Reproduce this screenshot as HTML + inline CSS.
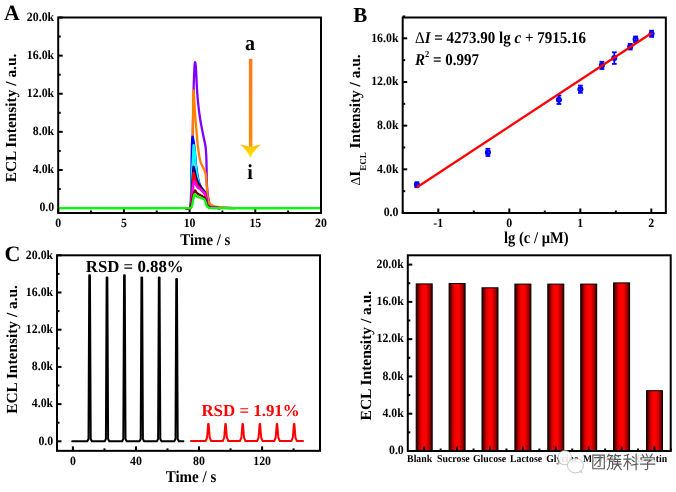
<!DOCTYPE html>
<html><head><meta charset="utf-8"><style>
html,body{margin:0;padding:0;background:#fff;}
svg{display:block;font-family:"Liberation Serif", serif;-webkit-font-smoothing:antialiased;text-rendering:geometricPrecision;will-change:transform;}
</style></head><body>
<svg width="676" height="492" viewBox="0 0 676 492">
<rect width="676" height="492" fill="#fff"/>
<text transform="translate(4.00,20.40) scale(1.0,1.0)" font-size="21.8" text-anchor="start" fill="#000" font-weight="bold"  style="">A</text>
<line x1="58.20" y1="208.10" x2="62.70" y2="208.10" stroke="#000" stroke-width="2" stroke-linecap="butt"/>
<text transform="translate(54.20,211.40) scale(1.0,1.07)" font-size="11.85" text-anchor="end" fill="#000" font-weight="bold"  style="">0.0</text>
<line x1="58.20" y1="189.04" x2="60.70" y2="189.04" stroke="#000" stroke-width="2" stroke-linecap="butt"/>
<line x1="58.20" y1="169.98" x2="62.70" y2="169.98" stroke="#000" stroke-width="2" stroke-linecap="butt"/>
<text transform="translate(54.20,173.28) scale(1.0,1.07)" font-size="11.85" text-anchor="end" fill="#000" font-weight="bold"  style="">4.0k</text>
<line x1="58.20" y1="150.92" x2="60.70" y2="150.92" stroke="#000" stroke-width="2" stroke-linecap="butt"/>
<line x1="58.20" y1="131.86" x2="62.70" y2="131.86" stroke="#000" stroke-width="2" stroke-linecap="butt"/>
<text transform="translate(54.20,135.16) scale(1.0,1.07)" font-size="11.85" text-anchor="end" fill="#000" font-weight="bold"  style="">8.0k</text>
<line x1="58.20" y1="112.80" x2="60.70" y2="112.80" stroke="#000" stroke-width="2" stroke-linecap="butt"/>
<line x1="58.20" y1="93.74" x2="62.70" y2="93.74" stroke="#000" stroke-width="2" stroke-linecap="butt"/>
<text transform="translate(54.20,97.04) scale(1.0,1.07)" font-size="11.85" text-anchor="end" fill="#000" font-weight="bold"  style="">12.0k</text>
<line x1="58.20" y1="74.68" x2="60.70" y2="74.68" stroke="#000" stroke-width="2" stroke-linecap="butt"/>
<line x1="58.20" y1="55.62" x2="62.70" y2="55.62" stroke="#000" stroke-width="2" stroke-linecap="butt"/>
<text transform="translate(54.20,58.92) scale(1.0,1.07)" font-size="11.85" text-anchor="end" fill="#000" font-weight="bold"  style="">16.0k</text>
<line x1="58.20" y1="36.56" x2="60.70" y2="36.56" stroke="#000" stroke-width="2" stroke-linecap="butt"/>
<line x1="58.20" y1="17.50" x2="62.70" y2="17.50" stroke="#000" stroke-width="2" stroke-linecap="butt"/>
<text transform="translate(54.20,20.80) scale(1.0,1.07)" font-size="11.85" text-anchor="end" fill="#000" font-weight="bold"  style="">20.0k</text>
<line x1="58.20" y1="213.00" x2="58.20" y2="208.50" stroke="#000" stroke-width="2" stroke-linecap="butt"/>
<text transform="translate(58.20,226.50) scale(1.0,1.07)" font-size="11.85" text-anchor="middle" fill="#000" font-weight="bold"  style="">0</text>
<line x1="91.05" y1="213.00" x2="91.05" y2="210.50" stroke="#000" stroke-width="2" stroke-linecap="butt"/>
<line x1="123.90" y1="213.00" x2="123.90" y2="208.50" stroke="#000" stroke-width="2" stroke-linecap="butt"/>
<text transform="translate(123.90,226.50) scale(1.0,1.07)" font-size="11.85" text-anchor="middle" fill="#000" font-weight="bold"  style="">5</text>
<line x1="156.75" y1="213.00" x2="156.75" y2="210.50" stroke="#000" stroke-width="2" stroke-linecap="butt"/>
<line x1="189.60" y1="213.00" x2="189.60" y2="208.50" stroke="#000" stroke-width="2" stroke-linecap="butt"/>
<text transform="translate(189.60,226.50) scale(1.0,1.07)" font-size="11.85" text-anchor="middle" fill="#000" font-weight="bold"  style="">10</text>
<line x1="222.45" y1="213.00" x2="222.45" y2="210.50" stroke="#000" stroke-width="2" stroke-linecap="butt"/>
<line x1="255.30" y1="213.00" x2="255.30" y2="208.50" stroke="#000" stroke-width="2" stroke-linecap="butt"/>
<text transform="translate(255.30,226.50) scale(1.0,1.07)" font-size="11.85" text-anchor="middle" fill="#000" font-weight="bold"  style="">15</text>
<line x1="288.15" y1="213.00" x2="288.15" y2="210.50" stroke="#000" stroke-width="2" stroke-linecap="butt"/>
<line x1="321.00" y1="213.00" x2="321.00" y2="208.50" stroke="#000" stroke-width="2" stroke-linecap="butt"/>
<text transform="translate(321.00,226.50) scale(1.0,1.07)" font-size="11.85" text-anchor="middle" fill="#000" font-weight="bold"  style="">20</text>
<text transform="translate(205.30,245.40) scale(1.0,1.1)" font-size="14.8" text-anchor="middle" fill="#000" font-weight="bold"  style="">Time / s</text>
<text transform="translate(16,118) rotate(-90)" x="0" y="0" font-size="15.4" text-anchor="middle" font-weight="bold">ECL Intensity / a.u.</text>
<path d="M186.00,208.15 C186.00,208.15 189.27,208.83 190.10,208.15 C190.97,207.44 191.03,205.42 191.10,204.00 C191.69,192.70 191.82,181.33 192.10,170.00 C192.42,156.67 192.65,143.33 192.90,130.00 C193.15,116.87 193.29,103.73 193.60,90.60 C193.76,83.73 193.96,76.86 194.30,70.00 C194.43,67.36 194.67,62.99 195.00,62.10 C195.17,61.65 195.70,64.68 195.80,66.00 C196.30,72.31 196.43,78.67 196.80,85.00 C197.09,90.00 197.32,95.01 197.80,100.00 C198.38,106.01 199.12,112.02 200.00,118.00 C200.59,122.02 201.44,126.01 202.20,130.00 C202.77,133.01 203.40,136.00 204.00,139.00 C204.53,141.67 205.26,144.31 205.60,147.00 C206.02,150.31 206.14,153.66 206.30,157.00 C206.47,160.66 206.53,164.33 206.60,168.00 C206.69,172.67 206.63,177.34 206.80,182.00 C206.93,185.34 207.17,188.68 207.50,192.00 C207.73,194.34 208.09,196.68 208.50,199.00 C208.76,200.48 208.91,202.07 209.50,203.40 C209.87,204.24 210.66,204.94 211.40,205.50 C212.16,206.07 213.07,206.58 214.00,206.80 C215.94,207.25 217.99,207.37 220.00,207.50 C224.99,207.82 235.00,208.15 235.00,208.15" fill="none" stroke="#8000FF" stroke-width="2.3" stroke-linejoin="round" stroke-linecap="round"/>
<path d="M186.00,208.15 C186.00,208.15 189.53,209.05 190.10,208.15 C191.23,206.34 190.99,202.73 191.10,200.00 C191.65,186.68 191.80,173.33 192.10,160.00 C192.44,145.00 192.76,130.00 193.00,115.00 C193.13,106.87 192.93,95.78 193.20,90.60 C193.26,89.44 193.85,94.19 194.00,96.00 C194.38,100.65 194.47,105.34 194.80,110.00 C195.27,116.67 195.82,123.34 196.40,130.00 C196.98,136.67 197.42,143.37 198.30,150.00 C198.86,154.20 199.57,158.44 200.70,162.50 C201.20,164.31 202.38,165.89 203.20,167.60 C203.74,168.73 204.39,169.82 204.80,171.00 C205.25,172.29 205.60,173.65 205.80,175.00 C206.10,176.98 206.13,179.00 206.30,181.00 C206.70,185.67 206.97,190.35 207.50,195.00 C207.77,197.35 207.93,199.84 208.70,202.00 C209.09,203.10 210.06,204.09 211.00,204.80 C211.96,205.53 213.20,206.03 214.40,206.30 C216.87,206.86 219.46,207.07 222.00,207.30 C226.32,207.69 235.00,208.15 235.00,208.15" fill="none" stroke="#FF8000" stroke-width="2.3" stroke-linejoin="round" stroke-linecap="round"/>
<path d="M186.00,208.15 C186.00,208.15 189.56,209.06 190.10,208.15 C191.19,206.34 190.81,202.73 190.90,200.00 C191.31,188.34 191.38,176.67 191.60,165.00 C191.71,159.00 191.73,153.00 191.90,147.00 C192.00,143.53 192.08,139.22 192.40,136.60 C192.45,136.22 192.91,137.50 193.00,138.00 C193.61,141.30 194.13,144.65 194.50,148.00 C195.13,153.65 195.34,159.35 196.00,165.00 C196.51,169.35 197.14,173.71 198.00,178.00 C198.54,180.71 199.24,183.43 200.20,186.00 C200.74,187.43 201.62,188.75 202.50,190.00 C203.15,190.92 204.31,191.52 204.80,192.50 C205.47,193.85 205.70,195.48 206.00,197.00 C206.43,199.15 206.35,201.45 207.00,203.50 C207.35,204.62 208.06,205.89 209.00,206.50 C210.06,207.19 211.65,207.20 213.00,207.40 C215.32,207.75 220.00,208.15 220.00,208.15" fill="none" stroke="#0000FF" stroke-width="2.3" stroke-linejoin="round" stroke-linecap="round"/>
<path d="M186.00,208.15 C186.00,208.15 189.54,209.06 190.10,208.15 C191.21,206.34 190.85,202.73 191.00,200.00 C191.45,191.68 191.51,183.33 191.90,175.00 C192.21,168.33 192.72,161.67 193.10,155.00 C193.29,151.73 193.29,146.31 193.60,145.20 C193.76,144.65 194.32,148.38 194.50,150.00 C194.95,153.98 195.10,158.01 195.50,162.00 C195.93,166.34 196.21,170.72 197.00,175.00 C197.78,179.22 198.82,183.47 200.20,187.50 C200.65,188.81 201.61,189.94 202.50,191.00 C203.15,191.77 204.34,192.14 204.80,193.00 C205.51,194.31 205.68,195.98 206.00,197.50 C206.42,199.48 206.37,201.62 207.00,203.50 C207.37,204.62 208.06,205.89 209.00,206.50 C210.06,207.19 211.65,207.20 213.00,207.40 C215.32,207.75 220.00,208.15 220.00,208.15" fill="none" stroke="#00FFFF" stroke-width="2.3" stroke-linejoin="round" stroke-linecap="round"/>
<path d="M186.00,208.15 C186.00,208.15 189.53,209.05 190.10,208.15 C191.23,206.34 190.86,202.73 191.10,200.00 C191.53,195.01 191.74,190.00 192.10,185.00 C192.41,180.66 192.77,176.33 193.10,172.00 C193.24,170.20 193.22,167.00 193.50,166.60 C193.68,166.34 194.22,168.85 194.50,170.00 C195.06,172.32 195.36,174.71 196.00,177.00 C196.52,178.87 197.16,180.76 198.00,182.50 C198.56,183.66 199.46,184.64 200.20,185.70 C200.96,186.80 201.71,187.92 202.50,189.00 C203.24,190.02 204.31,190.87 204.80,192.00 C205.47,193.54 205.69,195.32 206.00,197.00 C206.42,199.32 206.33,201.80 207.00,204.00 C207.33,205.07 208.08,206.26 209.00,206.80 C210.08,207.43 211.66,207.34 213.00,207.50 C215.32,207.79 220.00,208.15 220.00,208.15" fill="none" stroke="#000080" stroke-width="2.3" stroke-linejoin="round" stroke-linecap="round"/>
<path d="M186.00,208.15 C186.00,208.15 189.43,208.96 190.10,208.15 C191.13,206.91 190.87,204.06 191.10,202.00 C191.54,198.01 191.77,194.00 192.10,190.00 C192.43,186.00 192.77,182.00 193.10,178.00 C193.24,176.33 193.21,173.41 193.50,173.00 C193.68,172.74 194.22,174.99 194.50,176.00 C195.05,177.99 195.32,180.07 196.00,182.00 C196.49,183.40 197.20,184.76 198.00,186.00 C198.60,186.92 199.50,187.64 200.20,188.50 C201.00,189.47 201.69,190.53 202.50,191.50 C203.23,192.37 204.28,193.03 204.80,194.00 C205.44,195.19 205.72,196.64 206.00,198.00 C206.45,200.14 206.33,202.48 207.00,204.50 C207.33,205.48 208.11,206.56 209.00,207.00 C210.11,207.56 211.66,207.36 213.00,207.50 C215.33,207.74 220.00,208.15 220.00,208.15" fill="none" stroke="#FF0000" stroke-width="2.3" stroke-linejoin="round" stroke-linecap="round"/>
<path d="M186.00,208.15 C186.00,208.15 189.34,208.90 190.10,208.15 C191.07,207.18 190.94,204.73 191.20,203.00 C191.70,199.68 191.98,196.33 192.40,193.00 C192.78,190.00 193.15,186.99 193.60,184.00 C193.75,182.99 193.89,181.00 194.20,181.00 C194.53,181.00 195.01,183.03 195.50,184.00 C196.11,185.20 196.63,186.53 197.50,187.50 C198.19,188.27 199.35,188.57 200.20,189.20 C201.01,189.80 201.76,190.51 202.50,191.20 C203.29,191.94 204.32,192.57 204.80,193.50 C205.49,194.83 205.69,196.48 206.00,198.00 C206.36,199.78 206.29,201.68 206.80,203.40 C207.13,204.51 207.60,205.91 208.50,206.50 C209.67,207.27 211.48,207.28 213.00,207.50 C215.32,207.83 220.00,208.15 220.00,208.15" fill="none" stroke="#FF00FF" stroke-width="2.3" stroke-linejoin="round" stroke-linecap="round"/>
<path d="M186.00,208.15 C186.00,208.15 189.23,208.82 190.10,208.15 C191.03,207.44 191.06,205.41 191.40,204.00 C191.96,201.69 192.26,199.32 192.80,197.00 C193.19,195.32 193.68,193.65 194.20,192.00 C194.38,191.42 194.59,190.23 194.90,190.30 C195.36,190.40 195.89,191.84 196.50,192.50 C197.09,193.14 197.77,193.73 198.50,194.20 C199.01,194.53 199.66,194.62 200.20,194.90 C200.99,195.32 201.73,195.83 202.50,196.30 C203.27,196.77 204.29,197.02 204.80,197.70 C205.46,198.59 205.66,199.88 206.00,201.00 C206.40,202.31 206.42,203.80 207.00,205.00 C207.42,205.87 208.12,206.85 209.00,207.20 C210.79,207.90 215.00,208.15 215.00,208.15" fill="none" stroke="#800000" stroke-width="2.3" stroke-linejoin="round" stroke-linecap="round"/>
<path d="M59.60,208.15 C59.60,208.15 146.68,208.43 190.10,208.15 C190.64,208.15 191.28,207.76 191.50,207.30 C192.11,206.05 192.29,204.45 192.60,203.00 C193.06,200.88 193.34,198.72 193.80,196.60 C193.98,195.79 194.07,194.30 194.50,194.20 C194.97,194.10 195.79,195.46 196.50,196.00 C197.12,196.46 197.80,196.88 198.50,197.20 C199.03,197.44 199.64,197.50 200.20,197.70 C201.51,198.17 203.09,198.38 204.10,199.20 C204.86,199.81 205.12,201.03 205.50,202.00 C205.95,203.16 206.07,204.49 206.60,205.60 C206.91,206.25 207.43,206.87 208.00,207.30 C208.56,207.72 209.28,208.14 210.00,208.15 C246.41,208.43 319.40,208.15 319.40,208.15" fill="none" stroke="#00FF00" stroke-width="2.35" stroke-linejoin="round" stroke-linecap="round"/>
<defs><linearGradient id="ag" x1="0" y1="0" x2="0" y2="1"><stop offset="0" stop-color="#FF7A1E"/><stop offset="0.9" stop-color="#FF8408"/><stop offset="1" stop-color="#FFA000"/></linearGradient><linearGradient id="ahg" x1="0" y1="0" x2="0" y2="1"><stop offset="0" stop-color="#FFB800"/><stop offset="0.5" stop-color="#FFD400"/><stop offset="1" stop-color="#FFE600"/></linearGradient><linearGradient id="bar" x1="0" y1="0" x2="1" y2="0"><stop offset="0" stop-color="#200000"/><stop offset="0.25" stop-color="#cc0000"/><stop offset="0.42" stop-color="#ff0000"/><stop offset="0.6" stop-color="#ff0000"/><stop offset="0.85" stop-color="#a00000"/><stop offset="1" stop-color="#200000"/></linearGradient></defs>
<rect x="248.9" y="58.8" width="3.5" height="88.5" fill="url(#ag)"/>
<path d="M240.2,144.6 Q245.8,145.2 250.5,147.4 Q255.2,145.2 260.9,144.4 Q254.6,149.2 250.4,157.8 Q246.2,149.2 240.2,144.6 Z" fill="url(#ahg)"/>
<text transform="translate(250.10,50.00) scale(1.0,1.07)" font-size="20" text-anchor="middle" fill="#000" font-weight="bold"  style="">a</text>
<text transform="translate(250.10,179.00) scale(1.0,1.07)" font-size="20" text-anchor="middle" fill="#000" font-weight="bold"  style="">i</text>
<rect x="58.20" y="17.50" width="262.80" height="195.50" fill="none" stroke="#000" stroke-width="2"/>
<text transform="translate(353.30,21.50) scale(1.0,1.02)" font-size="21" text-anchor="start" fill="#000" font-weight="bold"  style="">B</text>
<line x1="402.70" y1="213.00" x2="407.20" y2="213.00" stroke="#000" stroke-width="2" stroke-linecap="butt"/>
<text transform="translate(398.50,216.30) scale(1.0,1.07)" font-size="11.85" text-anchor="end" fill="#000" font-weight="bold"  style="">0.0</text>
<line x1="402.70" y1="191.16" x2="405.20" y2="191.16" stroke="#000" stroke-width="2" stroke-linecap="butt"/>
<line x1="402.70" y1="169.32" x2="407.20" y2="169.32" stroke="#000" stroke-width="2" stroke-linecap="butt"/>
<text transform="translate(398.50,172.62) scale(1.0,1.07)" font-size="11.85" text-anchor="end" fill="#000" font-weight="bold"  style="">4.0k</text>
<line x1="402.70" y1="147.49" x2="405.20" y2="147.49" stroke="#000" stroke-width="2" stroke-linecap="butt"/>
<line x1="402.70" y1="125.65" x2="407.20" y2="125.65" stroke="#000" stroke-width="2" stroke-linecap="butt"/>
<text transform="translate(398.50,128.95) scale(1.0,1.07)" font-size="11.85" text-anchor="end" fill="#000" font-weight="bold"  style="">8.0k</text>
<line x1="402.70" y1="103.81" x2="405.20" y2="103.81" stroke="#000" stroke-width="2" stroke-linecap="butt"/>
<line x1="402.70" y1="81.98" x2="407.20" y2="81.98" stroke="#000" stroke-width="2" stroke-linecap="butt"/>
<text transform="translate(398.50,85.28) scale(1.0,1.07)" font-size="11.85" text-anchor="end" fill="#000" font-weight="bold"  style="">12.0k</text>
<line x1="402.70" y1="60.14" x2="405.20" y2="60.14" stroke="#000" stroke-width="2" stroke-linecap="butt"/>
<line x1="402.70" y1="38.30" x2="407.20" y2="38.30" stroke="#000" stroke-width="2" stroke-linecap="butt"/>
<text transform="translate(398.50,41.60) scale(1.0,1.07)" font-size="11.85" text-anchor="end" fill="#000" font-weight="bold"  style="">16.0k</text>
<line x1="402.70" y1="16.46" x2="405.20" y2="16.46" stroke="#000" stroke-width="2" stroke-linecap="butt"/>
<line x1="402.80" y1="213.00" x2="402.80" y2="210.50" stroke="#000" stroke-width="2" stroke-linecap="butt"/>
<line x1="438.30" y1="213.00" x2="438.30" y2="208.50" stroke="#000" stroke-width="2" stroke-linecap="butt"/>
<text transform="translate(438.30,226.50) scale(1.0,1.07)" font-size="11.85" text-anchor="middle" fill="#000" font-weight="bold"  style="">-1</text>
<line x1="473.80" y1="213.00" x2="473.80" y2="210.50" stroke="#000" stroke-width="2" stroke-linecap="butt"/>
<line x1="509.30" y1="213.00" x2="509.30" y2="208.50" stroke="#000" stroke-width="2" stroke-linecap="butt"/>
<text transform="translate(509.30,226.50) scale(1.0,1.07)" font-size="11.85" text-anchor="middle" fill="#000" font-weight="bold"  style="">0</text>
<line x1="544.80" y1="213.00" x2="544.80" y2="210.50" stroke="#000" stroke-width="2" stroke-linecap="butt"/>
<line x1="580.30" y1="213.00" x2="580.30" y2="208.50" stroke="#000" stroke-width="2" stroke-linecap="butt"/>
<text transform="translate(580.30,226.50) scale(1.0,1.07)" font-size="11.85" text-anchor="middle" fill="#000" font-weight="bold"  style="">1</text>
<line x1="615.80" y1="213.00" x2="615.80" y2="210.50" stroke="#000" stroke-width="2" stroke-linecap="butt"/>
<line x1="651.30" y1="213.00" x2="651.30" y2="208.50" stroke="#000" stroke-width="2" stroke-linecap="butt"/>
<text transform="translate(651.30,226.50) scale(1.0,1.07)" font-size="11.85" text-anchor="middle" fill="#000" font-weight="bold"  style="">2</text>
<text transform="translate(536.30,243.00) scale(1.0,1.13)" font-size="14.6" text-anchor="middle" fill="#000" font-weight="bold"  style="">lg (c / μM)</text>
<text transform="translate(360,119.9) rotate(-90)" x="0" y="0" font-size="15.4" text-anchor="middle" font-weight="bold"><tspan font-weight="normal" font-size="13.5">Δ</tspan>I<tspan font-size="9" dy="5.8">ECL</tspan><tspan dy="-5.8"> Intensity / a.u.</tspan></text>
<g stroke="#0000FF" fill="none" stroke-width="1.8"><line x1="416.90" y1="182.20" x2="416.90" y2="187.20"/><line x1="414.50" y1="182.20" x2="419.30" y2="182.20"/><line x1="414.50" y1="187.20" x2="419.30" y2="187.20"/><circle cx="416.90" cy="184.70" r="2.0" stroke-width="2.1"/></g>
<g stroke="#0000FF" fill="none" stroke-width="1.8"><line x1="487.90" y1="148.80" x2="487.90" y2="156.00"/><line x1="485.50" y1="148.80" x2="490.30" y2="148.80"/><line x1="485.50" y1="156.00" x2="490.30" y2="156.00"/><circle cx="487.90" cy="152.40" r="2.0" stroke-width="2.1"/></g>
<g stroke="#0000FF" fill="none" stroke-width="1.8"><line x1="558.90" y1="95.60" x2="558.90" y2="104.00"/><line x1="556.50" y1="95.60" x2="561.30" y2="95.60"/><line x1="556.50" y1="104.00" x2="561.30" y2="104.00"/><circle cx="558.90" cy="99.80" r="2.0" stroke-width="2.1"/></g>
<g stroke="#0000FF" fill="none" stroke-width="1.8"><line x1="580.40" y1="85.60" x2="580.40" y2="92.80"/><line x1="578.00" y1="85.60" x2="582.80" y2="85.60"/><line x1="578.00" y1="92.80" x2="582.80" y2="92.80"/><circle cx="580.40" cy="89.20" r="2.0" stroke-width="2.1"/></g>
<g stroke="#0000FF" fill="none" stroke-width="1.8"><line x1="601.90" y1="61.80" x2="601.90" y2="69.00"/><line x1="599.50" y1="61.80" x2="604.30" y2="61.80"/><line x1="599.50" y1="69.00" x2="604.30" y2="69.00"/><circle cx="601.90" cy="65.40" r="2.0" stroke-width="2.1"/></g>
<g stroke="#0000FF" fill="none" stroke-width="1.8"><line x1="614.30" y1="52.30" x2="614.30" y2="63.90"/><line x1="611.90" y1="52.30" x2="616.70" y2="52.30"/><line x1="611.90" y1="63.90" x2="616.70" y2="63.90"/><circle cx="614.30" cy="58.10" r="2.0" stroke-width="2.1"/></g>
<g stroke="#0000FF" fill="none" stroke-width="1.8"><line x1="630.20" y1="43.90" x2="630.20" y2="49.50"/><line x1="627.80" y1="43.90" x2="632.60" y2="43.90"/><line x1="627.80" y1="49.50" x2="632.60" y2="49.50"/><circle cx="630.20" cy="46.70" r="2.0" stroke-width="2.1"/></g>
<g stroke="#0000FF" fill="none" stroke-width="1.8"><line x1="635.60" y1="36.50" x2="635.60" y2="42.10"/><line x1="633.20" y1="36.50" x2="638.00" y2="36.50"/><line x1="633.20" y1="42.10" x2="638.00" y2="42.10"/><circle cx="635.60" cy="39.30" r="2.0" stroke-width="2.1"/></g>
<g stroke="#0000FF" fill="none" stroke-width="1.8"><line x1="651.60" y1="30.70" x2="651.60" y2="36.90"/><line x1="649.20" y1="30.70" x2="654.00" y2="30.70"/><line x1="649.20" y1="36.90" x2="654.00" y2="36.90"/><circle cx="651.60" cy="33.80" r="2.0" stroke-width="2.1"/></g>
<line x1="417.00" y1="187.24" x2="651.30" y2="33.25" stroke="#FF0000" stroke-width="2.2" stroke-linecap="butt"/>
<text transform="translate(415,42.9) scale(1,1.1)" font-size="15" font-weight="bold"><tspan font-weight="normal">Δ</tspan><tspan font-style="italic">I</tspan> = 4273.90 lg <tspan font-style="italic">c</tspan> + 7915.16</text>
<text transform="translate(415,64.8) scale(1,1.1)" font-size="15" font-weight="bold"><tspan font-style="italic">R</tspan><tspan font-size="8.5" dy="-7.3">2</tspan><tspan dy="7.3"> = 0.997</tspan></text>
<rect x="402.70" y="17.50" width="263.15" height="195.50" fill="none" stroke="#000" stroke-width="2"/>
<text transform="translate(4.50,261.10) scale(1.0,1.0)" font-size="22" text-anchor="start" fill="#000" font-weight="bold"  style="">C</text>
<line x1="57.00" y1="441.30" x2="61.50" y2="441.30" stroke="#000" stroke-width="2" stroke-linecap="butt"/>
<text transform="translate(53.20,444.60) scale(1.0,1.07)" font-size="11.85" text-anchor="end" fill="#000" font-weight="bold"  style="">0.0</text>
<line x1="57.00" y1="422.70" x2="59.50" y2="422.70" stroke="#000" stroke-width="2" stroke-linecap="butt"/>
<line x1="57.00" y1="404.10" x2="61.50" y2="404.10" stroke="#000" stroke-width="2" stroke-linecap="butt"/>
<text transform="translate(53.20,407.40) scale(1.0,1.07)" font-size="11.85" text-anchor="end" fill="#000" font-weight="bold"  style="">4.0k</text>
<line x1="57.00" y1="385.50" x2="59.50" y2="385.50" stroke="#000" stroke-width="2" stroke-linecap="butt"/>
<line x1="57.00" y1="366.90" x2="61.50" y2="366.90" stroke="#000" stroke-width="2" stroke-linecap="butt"/>
<text transform="translate(53.20,370.20) scale(1.0,1.07)" font-size="11.85" text-anchor="end" fill="#000" font-weight="bold"  style="">8.0k</text>
<line x1="57.00" y1="348.30" x2="59.50" y2="348.30" stroke="#000" stroke-width="2" stroke-linecap="butt"/>
<line x1="57.00" y1="329.70" x2="61.50" y2="329.70" stroke="#000" stroke-width="2" stroke-linecap="butt"/>
<text transform="translate(53.20,333.00) scale(1.0,1.07)" font-size="11.85" text-anchor="end" fill="#000" font-weight="bold"  style="">12.0k</text>
<line x1="57.00" y1="311.10" x2="59.50" y2="311.10" stroke="#000" stroke-width="2" stroke-linecap="butt"/>
<line x1="57.00" y1="292.50" x2="61.50" y2="292.50" stroke="#000" stroke-width="2" stroke-linecap="butt"/>
<text transform="translate(53.20,295.80) scale(1.0,1.07)" font-size="11.85" text-anchor="end" fill="#000" font-weight="bold"  style="">16.0k</text>
<line x1="57.00" y1="273.90" x2="59.50" y2="273.90" stroke="#000" stroke-width="2" stroke-linecap="butt"/>
<line x1="57.00" y1="255.30" x2="61.50" y2="255.30" stroke="#000" stroke-width="2" stroke-linecap="butt"/>
<text transform="translate(53.20,258.60) scale(1.0,1.07)" font-size="11.85" text-anchor="end" fill="#000" font-weight="bold"  style="">20.0k</text>
<line x1="72.90" y1="450.85" x2="72.90" y2="446.35" stroke="#000" stroke-width="2" stroke-linecap="butt"/>
<text transform="translate(72.90,464.50) scale(1.0,1.07)" font-size="11.85" text-anchor="middle" fill="#000" font-weight="bold"  style="">0</text>
<line x1="104.43" y1="450.85" x2="104.43" y2="448.35" stroke="#000" stroke-width="2" stroke-linecap="butt"/>
<line x1="135.97" y1="450.85" x2="135.97" y2="446.35" stroke="#000" stroke-width="2" stroke-linecap="butt"/>
<text transform="translate(135.97,464.50) scale(1.0,1.07)" font-size="11.85" text-anchor="middle" fill="#000" font-weight="bold"  style="">40</text>
<line x1="167.50" y1="450.85" x2="167.50" y2="448.35" stroke="#000" stroke-width="2" stroke-linecap="butt"/>
<line x1="199.03" y1="450.85" x2="199.03" y2="446.35" stroke="#000" stroke-width="2" stroke-linecap="butt"/>
<text transform="translate(199.03,464.50) scale(1.0,1.07)" font-size="11.85" text-anchor="middle" fill="#000" font-weight="bold"  style="">80</text>
<line x1="230.57" y1="450.85" x2="230.57" y2="448.35" stroke="#000" stroke-width="2" stroke-linecap="butt"/>
<line x1="262.10" y1="450.85" x2="262.10" y2="446.35" stroke="#000" stroke-width="2" stroke-linecap="butt"/>
<text transform="translate(262.10,464.50) scale(1.0,1.07)" font-size="11.85" text-anchor="middle" fill="#000" font-weight="bold"  style="">120</text>
<line x1="293.63" y1="450.85" x2="293.63" y2="448.35" stroke="#000" stroke-width="2" stroke-linecap="butt"/>
<text transform="translate(191.00,482.10) scale(1.0,1.1)" font-size="15" text-anchor="middle" fill="#000" font-weight="bold"  style="">Time / s</text>
<text transform="translate(17.1,349.4) rotate(-90)" x="0" y="0" font-size="15.4" text-anchor="middle" font-weight="bold">ECL Intensity / a.u.</text>
<polyline points="72.20,441.30 87.30,441.30 88.50,439.00 89.25,275.20 89.95,275.20 90.70,439.00 91.90,441.30 104.70,441.30 105.90,439.00 106.65,277.50 107.35,277.50 108.10,439.00 109.30,441.30 122.10,441.30 123.30,439.00 124.05,275.20 124.75,275.20 125.50,439.00 126.70,441.30 139.50,441.30 140.70,439.00 141.45,277.50 142.15,277.50 142.90,439.00 144.10,441.30 156.90,441.30 158.10,439.00 158.85,277.50 159.55,277.50 160.30,439.00 161.50,441.30 174.30,441.30 175.50,439.00 176.25,279.10 176.95,279.10 177.70,439.00 178.90,441.30 183.40,441.30" fill="none" stroke="#000" stroke-width="2.0" stroke-linejoin="round" stroke-linecap="round" />
<text transform="translate(85.80,272.00) scale(1.05,1.05)" font-size="16" text-anchor="start" fill="#000" font-weight="bold"  style="">RSD = 0.88%</text>
<polyline points="191.00,441.10 205.60,441.10 207.10,437.50 208.15,424.00 208.65,424.00 209.70,437.50 211.20,441.10 222.75,441.10 224.25,437.50 225.30,424.00 225.80,424.00 226.85,437.50 228.35,441.10 239.90,441.10 241.40,437.50 242.45,424.00 242.95,424.00 244.00,437.50 245.50,441.10 257.05,441.10 258.55,437.50 259.60,424.00 260.10,424.00 261.15,437.50 262.65,441.10 274.20,441.10 275.70,437.50 276.75,424.00 277.25,424.00 278.30,437.50 279.80,441.10 291.35,441.10 292.85,437.50 293.90,424.00 294.40,424.00 295.45,437.50 296.95,441.10 303.00,441.10" fill="none" stroke="#FF0000" stroke-width="2.0" stroke-linejoin="round" stroke-linecap="round" />
<text transform="translate(201.40,416.30) scale(1.055,1.05)" font-size="16" text-anchor="start" fill="#FF0000" font-weight="bold"  style="">RSD = 1.91%</text>
<rect x="57.00" y="255.30" width="263.00" height="195.55" fill="none" stroke="#000" stroke-width="2"/>
<line x1="407.80" y1="451.00" x2="412.30" y2="451.00" stroke="#000" stroke-width="2" stroke-linecap="butt"/>
<text transform="translate(403.80,454.30) scale(1.0,1.07)" font-size="11.85" text-anchor="end" fill="#000" font-weight="bold"  style="">0.0</text>
<line x1="407.80" y1="432.36" x2="410.30" y2="432.36" stroke="#000" stroke-width="2" stroke-linecap="butt"/>
<line x1="407.80" y1="413.72" x2="412.30" y2="413.72" stroke="#000" stroke-width="2" stroke-linecap="butt"/>
<text transform="translate(403.80,417.02) scale(1.0,1.07)" font-size="11.85" text-anchor="end" fill="#000" font-weight="bold"  style="">4.0k</text>
<line x1="407.80" y1="395.08" x2="410.30" y2="395.08" stroke="#000" stroke-width="2" stroke-linecap="butt"/>
<line x1="407.80" y1="376.44" x2="412.30" y2="376.44" stroke="#000" stroke-width="2" stroke-linecap="butt"/>
<text transform="translate(403.80,379.74) scale(1.0,1.07)" font-size="11.85" text-anchor="end" fill="#000" font-weight="bold"  style="">8.0k</text>
<line x1="407.80" y1="357.80" x2="410.30" y2="357.80" stroke="#000" stroke-width="2" stroke-linecap="butt"/>
<line x1="407.80" y1="339.16" x2="412.30" y2="339.16" stroke="#000" stroke-width="2" stroke-linecap="butt"/>
<text transform="translate(403.80,342.46) scale(1.0,1.07)" font-size="11.85" text-anchor="end" fill="#000" font-weight="bold"  style="">12.0k</text>
<line x1="407.80" y1="320.52" x2="410.30" y2="320.52" stroke="#000" stroke-width="2" stroke-linecap="butt"/>
<line x1="407.80" y1="301.88" x2="412.30" y2="301.88" stroke="#000" stroke-width="2" stroke-linecap="butt"/>
<text transform="translate(403.80,305.18) scale(1.0,1.07)" font-size="11.85" text-anchor="end" fill="#000" font-weight="bold"  style="">16.0k</text>
<line x1="407.80" y1="283.24" x2="410.30" y2="283.24" stroke="#000" stroke-width="2" stroke-linecap="butt"/>
<line x1="407.80" y1="264.60" x2="412.30" y2="264.60" stroke="#000" stroke-width="2" stroke-linecap="butt"/>
<text transform="translate(403.80,267.90) scale(1.0,1.07)" font-size="11.85" text-anchor="end" fill="#000" font-weight="bold"  style="">20.0k</text>
<text transform="translate(370.6,355.6) rotate(-90)" x="0" y="0" font-size="15.5" text-anchor="middle" font-weight="bold">ECL Intensity / a.u.</text>
<rect x="416.20" y="283.90" width="16.0" height="167.10" fill="url(#bar)" stroke="#000" stroke-width="1"/>
<line x1="424.20" y1="451.00" x2="424.20" y2="446.50" stroke="#000" stroke-width="2" stroke-linecap="butt"/>
<line x1="440.65" y1="451.00" x2="440.65" y2="448.50" stroke="#000" stroke-width="2" stroke-linecap="butt"/>
<rect x="449.10" y="283.50" width="16.0" height="167.50" fill="url(#bar)" stroke="#000" stroke-width="1"/>
<line x1="457.10" y1="451.00" x2="457.10" y2="446.50" stroke="#000" stroke-width="2" stroke-linecap="butt"/>
<line x1="473.55" y1="451.00" x2="473.55" y2="448.50" stroke="#000" stroke-width="2" stroke-linecap="butt"/>
<rect x="482.00" y="287.80" width="16.0" height="163.20" fill="url(#bar)" stroke="#000" stroke-width="1"/>
<line x1="490.00" y1="451.00" x2="490.00" y2="446.50" stroke="#000" stroke-width="2" stroke-linecap="butt"/>
<line x1="506.45" y1="451.00" x2="506.45" y2="448.50" stroke="#000" stroke-width="2" stroke-linecap="butt"/>
<rect x="514.90" y="284.10" width="16.0" height="166.90" fill="url(#bar)" stroke="#000" stroke-width="1"/>
<line x1="522.90" y1="451.00" x2="522.90" y2="446.50" stroke="#000" stroke-width="2" stroke-linecap="butt"/>
<line x1="539.35" y1="451.00" x2="539.35" y2="448.50" stroke="#000" stroke-width="2" stroke-linecap="butt"/>
<rect x="547.80" y="284.10" width="16.0" height="166.90" fill="url(#bar)" stroke="#000" stroke-width="1"/>
<line x1="555.80" y1="451.00" x2="555.80" y2="446.50" stroke="#000" stroke-width="2" stroke-linecap="butt"/>
<line x1="572.25" y1="451.00" x2="572.25" y2="448.50" stroke="#000" stroke-width="2" stroke-linecap="butt"/>
<rect x="580.70" y="284.10" width="16.0" height="166.90" fill="url(#bar)" stroke="#000" stroke-width="1"/>
<line x1="588.70" y1="451.00" x2="588.70" y2="446.50" stroke="#000" stroke-width="2" stroke-linecap="butt"/>
<line x1="605.15" y1="451.00" x2="605.15" y2="448.50" stroke="#000" stroke-width="2" stroke-linecap="butt"/>
<rect x="613.60" y="282.90" width="16.0" height="168.10" fill="url(#bar)" stroke="#000" stroke-width="1"/>
<line x1="621.60" y1="451.00" x2="621.60" y2="446.50" stroke="#000" stroke-width="2" stroke-linecap="butt"/>
<line x1="638.05" y1="451.00" x2="638.05" y2="448.50" stroke="#000" stroke-width="2" stroke-linecap="butt"/>
<rect x="646.50" y="390.70" width="16.0" height="60.30" fill="url(#bar)" stroke="#000" stroke-width="1"/>
<line x1="654.50" y1="451.00" x2="654.50" y2="446.50" stroke="#000" stroke-width="2" stroke-linecap="butt"/>
<line x1="670.95" y1="451.00" x2="670.95" y2="448.50" stroke="#000" stroke-width="2" stroke-linecap="butt"/>
<text transform="translate(407.10,461.80) scale(1.0,1.07)" font-size="9.8" text-anchor="start" fill="#000" font-weight="bold"  style="">Blank</text>
<text transform="translate(437.10,461.80) scale(1.0,1.07)" font-size="9.8" text-anchor="start" fill="#000" font-weight="bold"  style="">Sucrose</text>
<text transform="translate(473.00,461.80) scale(1.0,1.07)" font-size="9.8" text-anchor="start" fill="#000" font-weight="bold"  style="">Glucose</text>
<text transform="translate(510.00,461.80) scale(1.0,1.07)" font-size="9.8" text-anchor="start" fill="#000" font-weight="bold"  style="">Lactose</text>
<text transform="translate(546.20,461.80) scale(1.0,1.07)" font-size="9.8" text-anchor="start" fill="#000" font-weight="bold"  style="">Glycine</text>
<text transform="translate(583.00,461.80) scale(1.0,1.07)" font-size="9.8" text-anchor="start" fill="#000" font-weight="bold"  style="">Maltose</text>
<text transform="translate(667.30,461.80) scale(1.0,1.07)" font-size="9.8" text-anchor="end" fill="#000" font-weight="bold"  style="">Gelatin</text>
<rect x="407.80" y="255.30" width="262.90" height="195.70" fill="none" stroke="#000" stroke-width="2"/>
<g fill="#fff" fill-opacity="0.88" stroke="#a0a0a0" stroke-width="0.6"><ellipse cx="564.7" cy="457.6" rx="6.9" ry="7.2"/><path d="M559.6,462.6 L557.6,464.2 L561.0,463.6"/><ellipse cx="575.5" cy="465.6" rx="8" ry="7.3"/><path d="M579.6,471.6 L581.6,472.6 L581.0,470.2"/></g>
<rect x="591" y="452.8" width="65" height="18" fill="#fff" fill-opacity="0.86"/>
<g fill="none" stroke="#5a5a5a" stroke-width="1.15" stroke-linecap="square"><path d="M592.8,455.1 H604.3 V468.7 H592.8 Z M594.5,457.6 H602.8 M600.1,456.6 V466 Q599.5,466.8 598,466.3 M599.8,459.2 L594.5,465.2"/><path d="M609,454.2 L607.6,456.6 M608.6,455.6 H612.6 M611,455.8 L612,457 M615.6,454.2 L614.3,456.6 M615.2,455.6 H620.5 M617.6,455.8 L618.6,457 M610.6,457.6 V458.6 M608,459.1 H612.6 M609.6,459.1 V463.6 Q609.4,467.4 607.4,469.6 M609.6,461.3 H612.6 V467.6 Q612.4,469 611.1,468.7 M615.3,457.6 L613.9,460.1 M614.6,459.3 H620.6 M614.3,461.6 H620.3 M613.6,464.1 H621 M617.5,460.6 V464.1 L614,469.6 M617.8,464.6 L621.2,469.6"/><path d="M628.6,454.4 L624.4,455.7 M623.9,459.1 H631.1 M627.6,455.3 V469.6 M627.3,460.3 L624,466.3 M627.9,461.3 L630.6,463.6 M632.4,456.6 L634.2,458 M632.4,460.3 L634.2,461.7 M636.1,454.1 V469.6 M631.4,465.1 L638,464.1"/><path d="M642.3,454.6 L643.6,456.6 M646.3,453.9 L647.3,456.3 M652.2,454.1 L650.6,456.6 M641,459.6 V457.7 H654.2 V459.6 M644.1,460.1 H651.2 L647.6,462.6 V468.6 Q647.3,469.9 645.3,469.5 M640.6,464.1 H654.8"/></g>
</svg></body></html>
